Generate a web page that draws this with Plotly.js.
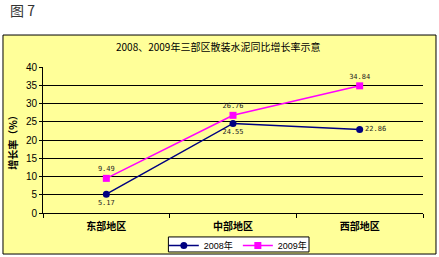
<!DOCTYPE html>
<html><head><meta charset="utf-8">
<script src="https://cdn.plot.ly/plotly-3.0.1.min.js"></script>
<style>html,body{margin:0;padding:0;background:#fff;}#c{width:439px;height:257px;}</style>
</head><body><div id="c"></div>
<script>
const categories = ['东部地区', '中部地区', '西部地区'];
const series2008 = [5.17, 24.55, 22.86];
const series2009 = [9.49, 26.76, 34.84];
const labels2008 = ['5.17', '24.55', '22.86'];
const labels2009 = ['9.49', '26.76', '34.84'];
const yTicks = [0, 5, 10, 15, 20, 25, 30, 35, 40];

const cjk = '"Noto Sans CJK SC", sans-serif';
const traces = [
  {x: categories, y: series2008, name: '2008年', type: 'scatter', mode: 'lines+markers+text',
   line: {color: '#000080', width: 1.5}, marker: {color: '#000080', symbol: 'circle', size: 7},
   text: labels2008, textposition: ['bottom center', 'bottom center', 'middle right'],
   textfont: {size: 7, color: '#222', family: 'DejaVu Sans Mono'}, cliponaxis: false},
  {x: categories, y: series2009, name: '2009年', type: 'scatter', mode: 'lines+markers+text',
   line: {color: '#FF00FF', width: 1.5}, marker: {color: '#FF00FF', symbol: 'square', size: 7},
   text: labels2009, textposition: 'top center',
   textfont: {size: 7, color: '#222', family: 'DejaVu Sans Mono'}, cliponaxis: false}
];
const layout = {
  width: 439, height: 257,
  margin: {l: 43, r: 16, t: 67, b: 44, autoexpand: false},
  paper_bgcolor: '#ffffff', plot_bgcolor: '#C0C0C0',
  font: {family: cjk, color: '#000'},
  showlegend: true,
  legend: {orientation: 'h', x: 0.514, xanchor: 'center', y: -0.123, yanchor: 'top',
    bgcolor: 'rgba(0,0,0,0)', borderwidth: 0,
    font: {size: 9, family: '"Liberation Sans", "Noto Sans CJK SC", sans-serif'},
    itemwidth: 30, tracegroupgap: 0},
  xaxis: {type: 'category', tickson: 'boundaries', ticks: 'outside', ticklen: 4, tickcolor: '#000',
    showgrid: false, showline: true, linecolor: '#000', linewidth: 1, ticklabelstandoff: 4,
    tickfont: {size: 10, family: cjk, weight: 'bold'}, range: [-0.5, 2.5], fixedrange: true},
  yaxis: {range: [0, 40], tickvals: yTicks, ticks: 'outside', ticklen: 3, tickcolor: '#000',
    showgrid: true, gridcolor: '#000', gridwidth: 1, showline: true, linecolor: '#000',
    zeroline: false, tickfont: {size: 10, family: 'Liberation Sans'},
    title: {text: '增长率（%）', font: {size: 10, family: cjk, weight: 'bold'}, standoff: 6}},
  shapes: [
    {type: 'rect', xref: 'paper', yref: 'paper', x0: -0.1053, x1: 1.0342, y0: -0.281, y1: 1.219,
     fillcolor: '#FFFF99', line: {color: '#000', width: 1}, layer: 'below'},
    {type: 'rect', xref: 'paper', yref: 'paper', x0: 0.33, x1: 0.70, y0: -0.267, y1: -0.164,
     fillcolor: '#FFFFFF', line: {color: '#000', width: 1}, layer: 'below'}
  ],
  annotations: [
    {text: '2008、2009年三部区散装水泥同比增长率示意', xref: 'paper', yref: 'paper',
     x: 0.46, y: 1.137, xanchor: 'center', yanchor: 'middle', showarrow: false,
     font: {size: 10, family: cjk}},
    {text: '图 7', xref: 'paper', yref: 'paper', x: -0.092, y: 1.39, xanchor: 'left', yanchor: 'middle',
     showarrow: false, font: {size: 14, family: cjk, color: '#333'}}
  ]
};
Plotly.newPlot('c', traces, layout, {displayModeBar: false, staticPlot: true});
</script></body></html>
